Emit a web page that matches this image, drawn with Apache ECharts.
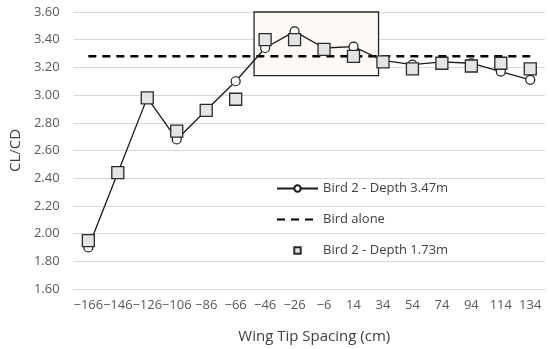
<!DOCTYPE html>
<html>
<head>
<meta charset="utf-8">
<script src="https://cdn.jsdelivr.net/npm/echarts@6/dist/echarts.min.js"></script>
<style>
html,body{margin:0;padding:0;background:#fff;}
#chart{width:550px;height:349px;}
</style>
</head>
<body>
<div id="chart"></div>
<script>
// Data
const categories = ['\u2212166','\u2212146','\u2212126','\u2212106','\u221286','\u221266','\u221246','\u221226','\u22126','14','34','54','74','94','114','134'];
const depth347 = [1.90, 2.44, 2.98, 2.68, 2.89, 3.10, 3.34, 3.46, 3.34, 3.35, 3.25, 3.22, 3.24, 3.23, 3.17, 3.11];
const birdAlone = [3.28, 3.28, 3.28, 3.28, 3.28, 3.28, 3.28, 3.28, 3.28, 3.28, 3.28, 3.28, 3.28, 3.28, 3.28, 3.28];
const depth173 = [1.95, 2.44, 2.98, 2.74, 2.89, 2.97, 3.40, 3.40, 3.33, 3.28, 3.24, 3.19, 3.23, 3.21, 3.23, 3.19];
// highlight box in wing-tip spacing (cm) and CL/CD units
const highlightBox = [[-53.5, 31.0, 3.14, 3.60]];
const spacingRange = [-176, 144];

const FONT = 'Open Sans';
const chart = echarts.init(document.getElementById('chart'));
chart.setOption({
  animation: false,
  backgroundColor: '#ffffff',
  grid: {left: 67, right: 5, top: 12, bottom: 60},
  xAxis: [{
    type: 'category',
    data: categories,
    boundaryGap: true,
    axisLine: {show: true, lineStyle: {color: '#d9d9d9'}},
    axisTick: {show: false},
    axisLabel: {interval: 0, color: '#595959', fontFamily: FONT, fontSize: 13, margin: 10},
    name: 'Wing Tip Spacing (cm)',
    nameLocation: 'middle',
    nameGap: 40,
    nameTextStyle: {color: '#404040', fontFamily: FONT, fontSize: 15, padding: [0, 0, 0, 10]}
  }, {
    type: 'value',
    min: spacingRange[0],
    max: spacingRange[1],
    show: false
  }],
  yAxis: {
    type: 'value',
    min: 1.6,
    max: 3.6,
    interval: 0.2,
    axisLine: {show: false},
    axisTick: {show: false},
    splitLine: {lineStyle: {color: '#d9d9d9', width: 1}},
    axisLabel: {color: '#595959', fontFamily: FONT, fontSize: 13, margin: 14,
      formatter: v => v.toFixed(2)},
    name: 'CL/CD',
    nameLocation: 'middle',
    nameGap: 47,
    nameTextStyle: {color: '#404040', fontFamily: FONT, fontSize: 15}
  },
  legend: {
    orient: 'vertical',
    left: 271,
    top: 177,
    itemWidth: 41,
    itemHeight: 8,
    itemGap: 18,
    textStyle: {color: '#404040', fontFamily: FONT, fontSize: 13},
    data: [
      {name: 'Bird 2 - Depth 3.47m'},
      {name: 'Bird alone', itemStyle: {opacity: 0}},
      {name: 'Bird 2 - Depth 1.73m'}
    ]
  },
  series: [{
    type: 'custom',
    xAxisIndex: 1,
    silent: true,
    z: 1,
    data: highlightBox,
    renderItem: function (params, api) {
      const p0 = api.coord([api.value(0), api.value(3)]);
      const p1 = api.coord([api.value(1), api.value(2)]);
      return {
        type: 'rect',
        shape: {x: p0[0], y: p0[1], width: p1[0] - p0[0], height: p1[1] - p0[1]},
        style: {fill: '#fdf9f5', stroke: '#262626', lineWidth: 1.3}
      };
    }
  }, {
    name: 'Bird alone',
    type: 'line',
    data: birdAlone,
    symbol: 'none',
    z: 3,
    lineStyle: {color: '#000', width: 2.5, type: [8, 6]},
    itemStyle: {color: '#000'}
  }, {
    name: 'Bird 2 - Depth 3.47m',
    type: 'line',
    data: depth347,
    symbol: 'circle',
    symbolSize: 9,
    z: 4,
    lineStyle: {color: '#1a1a1a', width: 1.3},
    itemStyle: {color: '#ffffff', borderColor: '#1a1a1a', borderWidth: 1.2}
  }, {
    name: 'Bird 2 - Depth 1.73m',
    type: 'line',
    data: depth173,
    symbol: 'rect',
    symbolSize: 12,
    z: 5,
    lineStyle: {width: 0, opacity: 0},
    itemStyle: {color: '#e4e4e4', borderColor: '#2a2a2a', borderWidth: 1.3}
  }]
});
</script>
</body>
</html>
